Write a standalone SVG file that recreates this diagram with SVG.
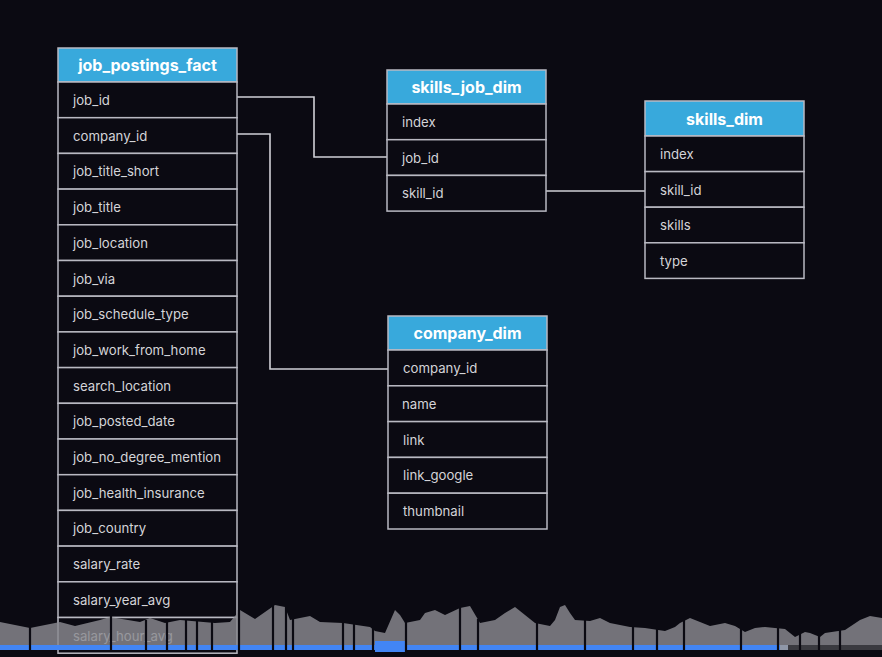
<svg xmlns="http://www.w3.org/2000/svg" width="882" height="657" viewBox="0 0 882 657">
<style>
.bg{fill:#0b0a12}
.hdr{fill:#38a9dc;stroke:#b9b9c2;stroke-width:1.5}
.row{fill:#0b0a12;stroke:#b9b9c2;stroke-width:1.5}
.ht{font-family:Inter,"Noto Sans",sans-serif;font-weight:700;font-size:16px;fill:#ffffff;text-anchor:middle}
.rt{font-family:Inter,"Noto Sans",sans-serif;font-size:13.2px;fill:#d4d4d8}
.conn{fill:none;stroke:#d0d0d6;stroke-width:1.6}
.div{stroke:#0b0a12;stroke-width:2.2}
</style>
<rect class="bg" x="0" y="0" width="882" height="657"/>

<g id="connectors">
<path class="conn" d="M237 97 H314 V157 H387"/>
<path class="conn" d="M237 134 H270 V369 H388"/>
<path class="conn" d="M546 191 H645"/>
</g>

<g id="job_postings_fact">
<rect class="hdr" x="58" y="48" width="179" height="34"/>
<text class="ht" x="147.5" y="71">job_postings_fact</text>
<rect class="row" x="58" y="82" width="179" height="35.7"/>
<rect class="row" x="58" y="117.7" width="179" height="35.7"/>
<rect class="row" x="58" y="153.4" width="179" height="35.7"/>
<rect class="row" x="58" y="189.1" width="179" height="35.7"/>
<rect class="row" x="58" y="224.8" width="179" height="35.7"/>
<rect class="row" x="58" y="260.5" width="179" height="35.7"/>
<rect class="row" x="58" y="296.2" width="179" height="35.7"/>
<rect class="row" x="58" y="331.9" width="179" height="35.7"/>
<rect class="row" x="58" y="367.6" width="179" height="35.7"/>
<rect class="row" x="58" y="403.3" width="179" height="35.7"/>
<rect class="row" x="58" y="439" width="179" height="35.7"/>
<rect class="row" x="58" y="474.7" width="179" height="35.7"/>
<rect class="row" x="58" y="510.4" width="179" height="35.7"/>
<rect class="row" x="58" y="546.1" width="179" height="35.7"/>
<rect class="row" x="58" y="581.8" width="179" height="35.7"/>
<rect class="row" x="58" y="617.5" width="179" height="35.7"/>
<text class="rt" x="73" y="105">job_id</text>
<text class="rt" x="73" y="140.7">company_id</text>
<text class="rt" x="73" y="176.4">job_title_short</text>
<text class="rt" x="73" y="212.1">job_title</text>
<text class="rt" x="73" y="247.8">job_location</text>
<text class="rt" x="73" y="283.5">job_via</text>
<text class="rt" x="73" y="319.2">job_schedule_type</text>
<text class="rt" x="73" y="354.9">job_work_from_home</text>
<text class="rt" x="73" y="390.6">search_location</text>
<text class="rt" x="73" y="426.3">job_posted_date</text>
<text class="rt" x="73" y="462">job_no_degree_mention</text>
<text class="rt" x="73" y="497.7">job_health_insurance</text>
<text class="rt" x="73" y="533.4">job_country</text>
<text class="rt" x="73" y="569.1">salary_rate</text>
<text class="rt" x="73" y="604.8">salary_year_avg</text>
<text class="rt" x="73" y="640.5">salary_hour_avg</text>
</g>

<g id="skills_job_dim">
<rect class="hdr" x="387" y="70" width="159" height="34"/>
<text class="ht" x="466.5" y="93">skills_job_dim</text>
<rect class="row" x="387" y="104" width="159" height="35.7"/>
<rect class="row" x="387" y="139.7" width="159" height="35.7"/>
<rect class="row" x="387" y="175.4" width="159" height="35.7"/>
<text class="rt" x="402" y="127">index</text>
<text class="rt" x="402" y="162.7">job_id</text>
<text class="rt" x="402" y="198.4">skill_id</text>
</g>

<g id="skills_dim">
<rect class="hdr" x="645" y="101" width="159" height="35"/>
<text class="ht" x="724.5" y="124.5">skills_dim</text>
<rect class="row" x="645" y="136" width="159" height="35.6"/>
<rect class="row" x="645" y="171.6" width="159" height="35.6"/>
<rect class="row" x="645" y="207.2" width="159" height="35.6"/>
<rect class="row" x="645" y="242.8" width="159" height="35.6"/>
<text class="rt" x="660" y="159">index</text>
<text class="rt" x="660" y="194.6">skill_id</text>
<text class="rt" x="660" y="230.2">skills</text>
<text class="rt" x="660" y="265.8">type</text>
</g>

<g id="company_dim">
<rect class="hdr" x="388" y="316" width="159" height="34"/>
<text class="ht" x="467.5" y="339">company_dim</text>
<rect class="row" x="388" y="350" width="159" height="35.8"/>
<rect class="row" x="388" y="385.8" width="159" height="35.8"/>
<rect class="row" x="388" y="421.6" width="159" height="35.8"/>
<rect class="row" x="388" y="457.4" width="159" height="35.8"/>
<rect class="row" x="388" y="493.2" width="159" height="35.8"/>
<text class="rt" x="403" y="373">company_id</text>
<text class="rt" x="402" y="408.8">name</text>
<text class="rt" x="403" y="444.6">link</text>
<text class="rt" x="403" y="480.4">link_google</text>
<text class="rt" x="403" y="516.2">thumbnail</text>
</g>

<g id="waveform">
<path fill="#8a8a90" fill-opacity="0.82" d="M0 622 L30 628 L50 624 L60 622 L75 626 L100 620 L110 617 L140 622 L150 618 L165 623 L180 620 L215 623 L230 622 L240 610 L255 619 L275 605 L285 607 L290 620 L300 618 L310 616 L320 622 L343 623 L370 627 L375 631 L385 633 L395 610 L400 615 L405 623 L420 620 L425 613 L435 610 L445 615 L460 608 L470 606 L480 623 L495 620 L505 613 L515 607 L525 615 L535 623 L550 626 L555 620 L560 607 L565 605 L570 613 L575 620 L590 621 L600 618 L610 623 L630 627 L645 628 L665 631 L675 627 L680 623 L690 618 L700 622 L710 626 L725 623 L735 626 L745 632 L755 628 L765 627 L785 629 L795 637 L805 632 L810 633 L820 637 L825 633 L845 630 L860 620 L870 616 L882 618 L882 645 L0 645 Z"/>
<rect x="0" y="645" width="780" height="5" fill="#4285f4"/>
<rect x="375" y="641" width="31" height="11" fill="#4285f4"/>
<rect x="780" y="645" width="8" height="5" fill="#8f97a8"/>
<rect x="788" y="645" width="94" height="5" fill="#3a3a40"/>
<line class="div" x1="30" y1="627" x2="30" y2="651"/>
<line class="div" x1="111" y1="616" x2="111" y2="651"/>
<line class="div" x1="146" y1="620" x2="146" y2="651"/>
<line class="div" x1="167" y1="621" x2="167" y2="651"/>
<line class="div" x1="186" y1="619" x2="186" y2="651"/>
<line class="div" x1="197" y1="620" x2="197" y2="651"/>
<line class="div" x1="212" y1="622" x2="212" y2="651"/>
<line class="div" x1="239" y1="610" x2="239" y2="651"/>
<line class="div" x1="273" y1="605" x2="273" y2="651"/>
<line class="div" x1="286" y1="607" x2="286" y2="651"/>
<line class="div" x1="293" y1="618" x2="293" y2="651"/>
<line class="div" x1="343" y1="622" x2="343" y2="651"/>
<line class="div" x1="354" y1="623" x2="354" y2="651"/>
<line class="div" x1="373" y1="628" x2="373" y2="651"/>
<line class="div" x1="406" y1="622" x2="406" y2="652"/>
<line class="div" x1="460" y1="607" x2="460" y2="651"/>
<line class="div" x1="478" y1="619" x2="478" y2="651"/>
<line class="div" x1="537" y1="623" x2="537" y2="651"/>
<line class="div" x1="585" y1="620" x2="585" y2="651"/>
<line class="div" x1="633" y1="626" x2="633" y2="651"/>
<line class="div" x1="657" y1="628" x2="657" y2="651"/>
<line class="div" x1="684" y1="620" x2="684" y2="651"/>
<line class="div" x1="741" y1="629" x2="741" y2="651"/>
<line class="div" x1="778" y1="628" x2="778" y2="651"/>
<line class="div" x1="800" y1="634" x2="800" y2="651"/>
<line class="div" x1="819" y1="636" x2="819" y2="651"/>
<line class="div" x1="840" y1="630" x2="840" y2="651"/>
</g>
</svg>
